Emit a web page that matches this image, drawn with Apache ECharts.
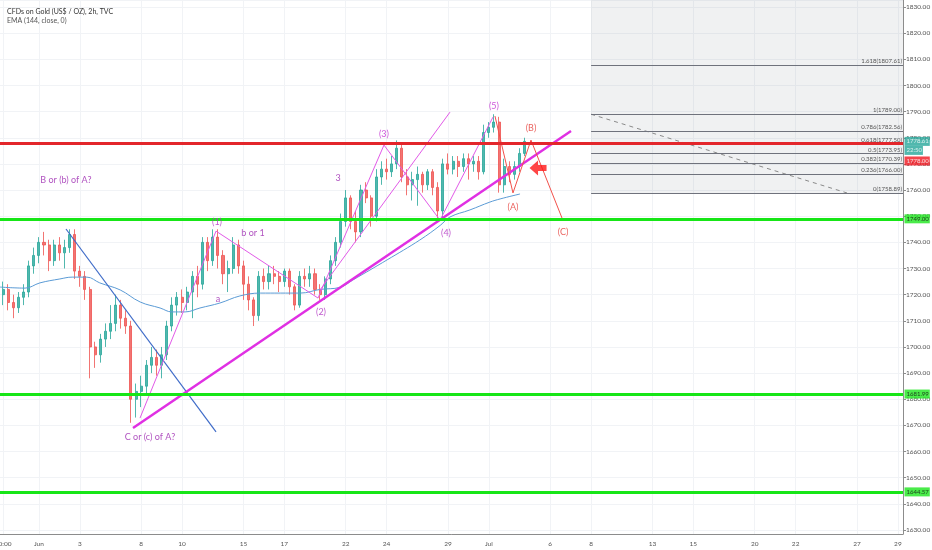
<!DOCTYPE html>
<html>
<head>
<meta charset="utf-8" />
<title>CFDs on Gold (US$ / OZ), 2h</title>
<script src="https://cdn.jsdelivr.net/npm/echarts@6/dist/echarts.min.js"></script>
<style>
html, body { margin: 0; padding: 0; background: #fff; }
#main { width: 932px; height: 550px; }
</style>
</head>
<body>
<div id="main"></div>
<script>
// time slots: 4 per trading day (6h each)
var slotCount = 178;
var tickSlots = [1, 8, 16, 28, 36, 48, 56, 68, 76, 88, 96, 108, 116, 128, 136, 148, 156, 168, 176];
var tickLabels = ['20:00', 'Jun', '3', '8', '10', '15', '17', '22', '24', '29', 'Jul', '6', '8', '13', '15', '20', '22', '27', '29'];

// candles [open, close, low, high]
var candles = [
  [1718,1720,1715,1723],[1720,1722,1716,1725],[1722,1717,1714,1724],[1717,1715,1711,1720],
  [1715,1719,1713,1721],[1719,1721,1716,1724],[1721,1731,1719,1733],[1731,1735,1728,1738],
  [1735,1740,1732,1742],[1740,1739,1735,1744],[1739,1733,1729,1741],[1733,1739,1731,1741],
  [1739,1736,1733,1742],[1736,1738,1730,1741],[1738,1743,1736,1745],[1743,1729,1726,1745],
  [1729,1727,1723,1731],[1727,1722,1718,1729],[1722,1700,1688,1723],[1700,1697,1692,1702],
  [1697,1703,1694,1705],[1703,1706,1700,1709],[1706,1709,1703,1716],[1709,1716,1706,1720],
  [1716,1711,1707,1718],[1711,1708,1705,1714],[1708,1680,1671,1710],[1680,1683,1673,1686],
  [1683,1685,1677,1689],[1685,1693,1682,1695],[1693,1696,1690,1700],[1696,1693,1689,1699],
  [1693,1697,1688,1700],[1697,1708,1695,1710],[1708,1716,1706,1719],[1716,1719,1712,1721],
  [1719,1717,1713,1722],[1717,1721,1714,1723],[1721,1727,1711,1729],[1727,1724,1719,1731],
  [1724,1740,1722,1742],[1740,1733,1729,1742],[1733,1742,1731,1745],[1742,1735,1730,1745],
  [1735,1728,1724,1737],[1728,1730,1721,1733],[1730,1739,1728,1742],[1739,1731,1728,1741],
  [1731,1724,1718,1733],[1724,1718,1714,1727],[1718,1712,1708,1719],[1712,1727,1710,1729],
  [1727,1725,1722,1730],[1725,1728,1722,1731],[1728,1727,1724,1731],[1727,1725,1721,1729],
  [1725,1729,1723,1730],[1729,1723,1720,1730],[1723,1716,1714,1724],[1716,1727,1715,1729],
  [1727,1726,1723,1730],[1726,1728,1723,1731],[1728,1722,1720,1730],[1722,1720,1718,1724],
  [1720,1726,1718,1727],[1726,1733,1724,1735],[1733,1740,1731,1742],[1740,1748,1738,1751],
  [1748,1757,1746,1760],[1757,1748,1745,1758],[1748,1744,1740,1752],[1744,1760,1742,1762],
  [1760,1757,1755,1763],[1757,1750,1746,1758],[1750,1765,1748,1768],[1765,1768,1762,1771],
  [1768,1767,1764,1772],[1767,1770,1765,1773],[1770,1776,1768,1779],[1776,1765,1763,1778],
  [1765,1762,1758,1768],[1762,1764,1756,1767],[1764,1766,1754,1769],[1766,1762,1759,1767],
  [1762,1767,1760,1768],[1767,1761,1758,1768],[1761,1752,1749,1763],[1752,1770,1749,1772],
  [1770,1768,1766,1774],[1768,1771,1766,1773],[1771,1769,1765,1773],[1769,1772,1767,1774],
  [1772,1770,1764,1774],[1770,1771,1767,1773],[1771,1767,1764,1773],[1767,1782,1766,1785],
  [1782,1784,1780,1786],[1784,1786,1782,1789],[1786,1762,1759,1788],[1762,1769,1759,1772],
  [1769,1766,1763,1771],[1766,1769,1764,1771],[1769,1774,1767,1776],[1774,1778.61,1773,1780]
];

// EMA(144) read at some slots
var emaSlots = [0.4, 5.3, 8.2, 12.1, 14.5, 17.4, 19.9, 23.9, 27.8, 31.7, 34.0, 36.6, 39.5, 43.4, 47.3, 51.3, 55.2, 59.1, 63.0, 66.9, 69.4, 76.1, 82.5, 86.5, 88.4, 92.3, 96.2, 98.2, 102.1];
var emaValues = [1722.9, 1722.5, 1724.5, 1726.0, 1726.7, 1726.7, 1724.5, 1721.8, 1717.2, 1714.9, 1713.4, 1713.4, 1714.9, 1716.8, 1719.5, 1720.6, 1720.6, 1720.6, 1722.0, 1722.8, 1725.6, 1733.3, 1740.9, 1746.5, 1749.7, 1752.4, 1755.4, 1756.6, 1758.5];

// horizontal levels
var greenLevels = [1749.00, 1681.99, 1644.57];
var redLevel = 1778.00;
var countdown = '22:50';

// fib retracement
var fibRatios = ['0', '0.236', '0.382', '0.5', '0.618', '0.786', '1', '1.618'];
var fibLevels = [1758.89, 1766.00, 1770.39, 1773.95, 1777.50, 1782.56, 1789.00, 1807.61];
var fibStartSlot = 116;
var fibDashSlots = [116, 166.05];
var fibDashPrices = [1789.00, 1758.89];

// drawn lines [slot, price]
var blueTrend = [[13.3, 1745.1], [42.64, 1667.5]];
var pinkTrend = [[26.4, 1669.0], [112.07, 1782.6]];
var waveLine = [[27.77, 1672.8], [42.64, 1744.3], [62.59, 1718.7], [75.49, 1777.2], [86.45, 1748.5], [96.81, 1787.9]];
var channelLine = [[62.98, 1721.8], [88.4, 1789.8]];
var abcLine = [[97.2, 1788.3], [100.72, 1758.9], [104.24, 1779.1], [110.31, 1749.3]];
var arrowPoint = [105.62, 1768.4];

// text notes
var noteTexts = ['B or (b) of A?', 'C or (c) of A?', '(1)', 'b or 1', 'a', '(2)', '3', '(3)', '(4)', '(5)', '(B)', '(A)', '(C)'];
var noteSlots = [13.3, 29.73, 42.83, 49.87, 43.03, 63.17, 66.5, 75.49, 87.62, 97.0, 104.24, 100.72, 110.5];
var notePrices = [1763.8, 1665.6, 1747.8, 1743.6, 1718.3, 1713.4, 1764.6, 1781.4, 1743.6, 1792.1, 1783.7, 1753.5, 1744.0];
var noteColors = ['#9c27b0', '#9c27b0', '#b02fc2', '#9c27b0', '#9c27b0', '#b02fc2', '#9c27b0', '#c02acf', '#b02fc2', '#c02acf', '#e53935', '#e53935', '#e53935'];

var yMin = 1628.47, yMax = 1832.68;
var font = 'Lato';

var chart = echarts.init(document.getElementById('main'));

var cats = [];
for (var i = 0; i < slotCount; i++) cats.push(String(i));
var tickMap = {};
tickSlots.forEach(function (s, i) { tickMap[s] = tickLabels[i]; });
function isTick(idx) { return tickMap[idx] !== undefined; }

var emaData = emaSlots.map(function (s, i) { return [s, emaValues[i]]; });

var noteData = noteTexts.map(function (t, i) {
  return {
    name: t,
    value: [noteSlots[i], notePrices[i]],
    label: { color: noteColors[i] }
  };
});

function tag(price, text, bg, fg, dy) {
  return {
    value: [slotCount - 1, price],
    label: {
      formatter: text,
      backgroundColor: bg,
      color: fg,
      offset: [0, dy]
    }
  };
}
var lastClose = candles[candles.length - 1][1];
var tagData = [
  tag(lastClose, lastClose.toFixed(2), '#26a69a', '#fff', 0),
  tag(lastClose, countdown, '#26a69a', '#fff', 9),
  tag(redLevel, redLevel.toFixed(2), '#f0171f', '#fff', 18)
];
greenLevels.forEach(function (v) {
  tagData.push(tag(v, v.toFixed(2), '#1de61d', '#111', 0));
});

var levelLines = greenLevels.map(function (v) {
  return { yAxis: v, lineStyle: { color: '#17e617', width: 3, type: 'solid' } };
});
levelLines.push({ yAxis: redLevel, lineStyle: { color: '#e3262b', width: 3, type: 'solid' } });

var fibLines = fibLevels.map(function (v, i) {
  return [
    { coord: [fibStartSlot, v], label: { formatter: fibRatios[i] + '(' + v.toFixed(2) + ')' } },
    { coord: [slotCount - 1, v] }
  ];
});

function drawn(data, color, width, type) {
  return {
    type: 'line',
    xAxisIndex: 1,
    data: data,
    symbol: 'none',
    silent: true,
    lineStyle: { color: color, width: width, type: type || 'solid' },
    z: 4
  };
}

option = {
  animation: false,
  backgroundColor: '#fff',
  textStyle: { fontFamily: font },
  title: {
    text: 'CFDs on Gold (US$ / OZ), 2h, TVC',
    subtext: 'EMA (144, close, 0)',
    left: 2,
    top: 3,
    itemGap: 2,
    textStyle: { fontSize: 7, fontWeight: 'normal', color: '#333', fontFamily: font },
    subtextStyle: { fontSize: 7, color: '#555', fontFamily: font }
  },
  grid: { left: -2, right: 29, top: 0, bottom: 16, containLabel: false, outerBoundsMode: 'none' },
  xAxis: [{
    type: 'category',
    data: cats,
    boundaryGap: false,
    axisLine: { lineStyle: { color: '#8c8c8c' } },
    axisTick: { show: false },
    axisLabel: {
      interval: function (idx) { return isTick(idx); },
      formatter: function (v, idx) { return tickMap[idx] || ''; },
      fontSize: 6.5, color: '#555', margin: 6, fontFamily: font
    },
    splitLine: {
      show: true,
      interval: function (idx) { return isTick(idx); },
      lineStyle: { color: '#f1f3f6' }
    }
  }, {
    type: 'value',
    min: 0,
    max: slotCount - 1,
    show: false,
    splitLine: { show: false }
  }],
  yAxis: {
    type: 'value',
    position: 'right',
    min: yMin,
    max: yMax,
    splitNumber: 20,
    axisLine: { show: true, onZero: false, lineStyle: { color: '#8c8c8c' } },
    axisTick: { show: true, length: 3, lineStyle: { color: '#8c8c8c' } },
    axisLabel: {
      fontSize: 6.5, color: '#555', margin: 3, fontFamily: font,
      showMinLabel: false, showMaxLabel: false,
      formatter: function (v) { return v.toFixed(2); }
    },
    splitLine: { lineStyle: { color: '#f1f3f6' } }
  },
  series: [
    {
      name: 'fib',
      type: 'line',
      xAxisIndex: 1,
      data: fibDashSlots.map(function (s, i) { return [s, fibDashPrices[i]]; }),
      symbol: 'none',
      silent: true,
      lineStyle: { color: '#8a8a8a', width: 1, type: [4, 4] },
      z: 3,
      markArea: {
        silent: true,
        itemStyle: { color: 'rgba(120,123,134,0.11)' },
        data: [[{ coord: [fibStartSlot, fibLevels[0]] }, { coord: [slotCount - 1, yMax] }]]
      },
      markLine: {
        silent: true,
        symbol: 'none',
        lineStyle: { color: '#6f727c', width: 1, type: 'solid' },
        label: { position: 'insideEndTop', distance: [1, 1], fontSize: 6, color: '#555', fontFamily: font },
        data: fibLines
      }
    },
    {
      name: 'CFDs on Gold',
      type: 'candlestick',
      data: candles,
      barWidth: '50%',
      itemStyle: {
        color: '#26a69a', color0: '#ef5350',
        borderColor: '#26a69a', borderColor0: '#ef5350',
        borderWidth: 1, opacity: 0.8
      },
      z: 2,
      markLine: {
        silent: true,
        symbol: 'none',
        label: { show: false },
        data: levelLines
      }
    },
    {
      name: 'EMA',
      type: 'line',
      xAxisIndex: 1,
      data: emaData,
      smooth: 0.4,
      symbol: 'none',
      silent: true,
      lineStyle: { color: '#5b9bd5', width: 1 },
      z: 3
    },
    drawn(blueTrend, '#3f6cc8', 1.2),
    drawn(pinkTrend, '#e030e3', 2.5),
    drawn(waveLine, '#e25ae8', 1),
    drawn(channelLine, '#e25ae8', 1),
    drawn(abcLine, '#f2514b', 1),
    {
      name: 'arrow',
      type: 'scatter',
      xAxisIndex: 1,
      data: [arrowPoint],
      symbol: 'path://M0,5 L5,0 L5,3 L10,3 L10,7 L5,7 L5,10 Z',
      symbolSize: [17, 15],
      itemStyle: { color: '#ff1616' },
      silent: true,
      z: 6
    },
    {
      name: 'notes',
      type: 'scatter',
      xAxisIndex: 1,
      data: noteData,
      symbolSize: 1,
      itemStyle: { color: 'rgba(0,0,0,0)' },
      silent: true,
      label: { show: true, position: 'inside', formatter: '{b}', fontSize: 9, fontFamily: font },
      z: 7
    },
    {
      name: 'tags',
      type: 'scatter',
      xAxisIndex: 1,
      data: tagData,
      symbolSize: 1,
      itemStyle: { color: 'rgba(0,0,0,0)' },
      silent: true,
      clip: false,
      label: { show: true, position: 'right', distance: 1, fontSize: 6, padding: [2, 1, 1, 2], fontFamily: font },
      z: 8
    }
  ]
};

chart.setOption(option);
</script>
</body>
</html>
